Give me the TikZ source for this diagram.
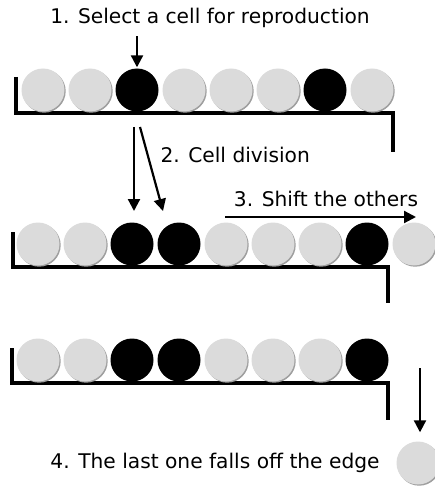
\documentclass[tikz,border=0pt]{standalone}
\usepackage{fontspec}
\setmainfont{DejaVu Sans}
\usetikzlibrary{arrows.meta,shadows}

\tikzset{
  cellg/.style={circle,minimum size=43pt,inner sep=0pt,fill=gray!28,
    drop shadow={shadow xshift=1.2pt,shadow yshift=-1.2pt,fill=gray!75,opacity=1}},
  cellb/.style={circle,minimum size=43pt,inner sep=0pt,fill=black},
  shelf/.style={line width=3.2pt,line join=miter},
  arr/.style={line width=2.2pt,-{Triangle[length=12pt,width=12pt]}},
  lbl/.style={font=\fontsize{20.2}{24}\selectfont}
}

\begin{document}
\begin{tikzpicture}[x=1pt,y=-1pt]
\useasboundingbox (0,0) rectangle (435,489);
% row 1
\draw[shelf] (16,77) -- (16,113) -- (393,113) -- (393,152);
\foreach \c [count=\i] in {g,g,b,g,g,g,b,g}
  \node[cell\c] (a\i) at ({43+47*(\i-1)},90) {};
\node[lbl] (t1) at (210,18) {1. Select a cell for reproduction};
\draw[arr,shorten >=1pt] (a3 |- t1.south) ++(0,5) -- (a3.north);
% row 2
\draw[shelf] (13,232) -- (13,267) -- (388,267) -- (388,303);
\foreach \c [count=\i] in {g,g,b,b,g,g,g,b,g}
  \node[cell\c] (b\i) at ({38+47*(\i-1)},244) {};
\coordinate (d1) at (134,127);
\coordinate (d2) at (140,127);
\coordinate (e1) at (134,211);
\coordinate (e2) at (163,211);
\draw[arr] (d1) -- (e1);
\draw[arr] (d2) -- (e2);
\node[lbl,anchor=west] (t2) at (157,155) {2. Cell division};
\node[lbl] (t3) at (326,199) {3. Shift the others};
\coordinate (s1) at (225,217);
\coordinate (s2) at (416,217);
\draw[arr] (s1) -- (s2);
% row 3
\draw[shelf] (12,348) -- (12,383) -- (388,383) -- (388,420);
\foreach \c [count=\i] in {g,g,b,b,g,g,g,b}
  \node[cell\c] (c\i) at ({38+47*(\i-1)},360) {};
\node[cellg] (f) at (418,463) {};
\coordinate (g1) at (420,368);
\draw[arr,shorten >=9pt] (g1) -- (g1 |- f.north);
\node[lbl] (t4) at (215,463) {4. The last one falls off the edge};
\end{tikzpicture}
\end{document}
